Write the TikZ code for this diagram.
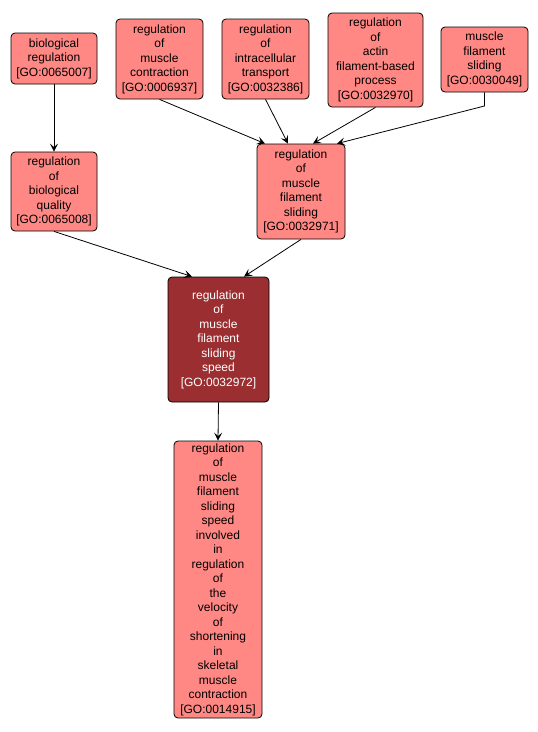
\documentclass[tikz,border=0pt]{standalone}
\usepackage{fontspec}
\setmainfont{Liberation Sans}
\usetikzlibrary{arrows.meta}
\definecolor{lightgo}{RGB}{255,136,132}
\definecolor{darkgo}{RGB}{154,46,48}
\tikzset{
  x=1pt, y=-1pt,
  goterm/.style={draw=black, line width=0.8pt, rounded corners=4pt, fill=lightgo,
    align=center, inner sep=0pt, font=\fontsize{12}{14.5}\selectfont, text=black},
  goterm dark/.style={goterm, fill=darkgo, text=white},
  link/.style={draw=black, line width=0.8pt, -{Stealth[length=8pt,width=8pt,inset=3.5pt]}}
}
\begin{document}
\begin{tikzpicture}
\useasboundingbox (0,0) rectangle (538,732);
\node[goterm, minimum width=86pt, minimum height=51pt] (n1) at (54,58.5) {biological\\regulation\\{[GO:0065007]}};
\node[goterm, minimum width=87pt, minimum height=80pt] (n2) at (159.5,59) {regulation\\of\\muscle\\contraction\\{[GO:0006937]}};
\node[goterm, minimum width=87pt, minimum height=80pt] (n3) at (265.5,59) {regulation\\of\\intracellular\\transport\\{[GO:0032386]}};
\node[goterm, minimum width=95pt, minimum height=94pt] (n4) at (375.5,60) {regulation\\of\\actin\\filament-based\\process\\{[GO:0032970]}};
\node[goterm, minimum width=87pt, minimum height=65pt] (n5) at (484.5,59.5) {muscle\\filament\\sliding\\{[GO:0030049]}};
\node[goterm, minimum width=86pt, minimum height=79pt] (n6) at (54,191.5) {regulation\\of\\biological\\quality\\{[GO:0065008]}};
\node[goterm, minimum width=88pt, minimum height=95pt] (n7) at (301,191.5) {regulation\\of\\muscle\\filament\\sliding\\{[GO:0032971]}};
\node[goterm dark, minimum width=101pt, minimum height=125pt] (n8) at (218.5,339.5) {regulation\\of\\muscle\\filament\\sliding\\speed\\{[GO:0032972]}};
\node[goterm, minimum width=88pt, minimum height=277pt] (n9) at (218,579.5) {regulation\\of\\muscle\\filament\\sliding\\speed\\involved\\in\\regulation\\of\\the\\velocity\\of\\shortening\\in\\skeletal\\muscle\\contraction\\{[GO:0014915]}};
\coordinate (bend5) at (484.5,106);
\draw[link] (n1.south) -- (n6.north);
\draw[link] (n2.south) -- ([xshift=-36pt]n7.north);
\draw[link] (n3.south) -- ([xshift=-13pt]n7.north);
\draw[link] (n4.south) -- ([xshift=12pt]n7.north);
\draw[link] (n5.south) -- (bend5) -- ([xshift=36pt]n7.north);
\draw[link] (n6.south) -- ([xshift=-26.5pt]n8.north);
\draw[link] (n7.south) -- ([xshift=25.5pt]n8.north);
\draw[link] (n8.south) -- (n9.north);
\end{tikzpicture}
\end{document}
